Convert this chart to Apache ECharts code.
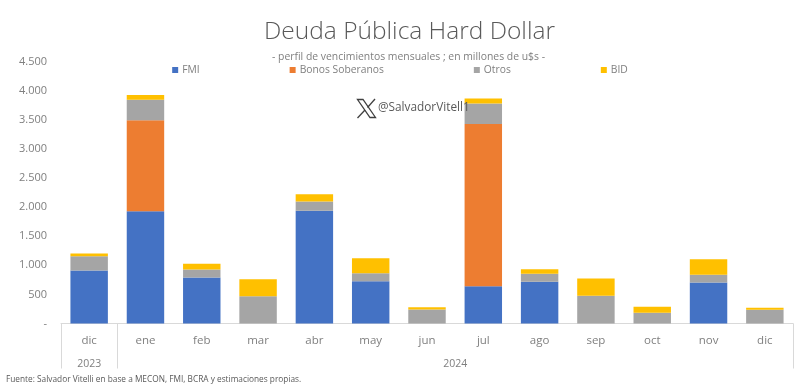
<!DOCTYPE html>
<html>
<head>
<meta charset="utf-8">
<style>html,body{margin:0;padding:0;background:#fff}#c{width:800px;height:388px}</style>
<script src="https://cdn.jsdelivr.net/npm/echarts@6/dist/echarts.min.js"></script>
</head>
<body>
<div id="c"></div>
<script>
const months = ['dic','ene','feb','mar','abr','may','jun','jul','ago','sep','oct','nov','dic'];
const years = ['2023','2024'];
const fmi    = [910,1930,792,0,1936,727,0,641,716,0,0,704,0];
const bonos  = [0,1563,0,0,0,0,0,2784,0,0,0,0,0];
const otros  = [247,349,136,470,160,138,240,355,137,475,183,132,235];
const bid    = [46,81,97,292,126,257,40,86,80,298,103,269,35];
const yTicks = {max:4500, step:500};
const titleText = 'Deuda Pública Hard Dollar';
const subtitleText = '- perfil de vencimientos mensuales ; en millones de u$s -';
const sourceText = 'Fuente: Salvador Vitelli en base a MECON, FMI, BCRA y estimaciones propias.';
const handle = '@SalvadorVitell1';

const FONT = '"Open Sans","Noto Sans",sans-serif';
const chart = echarts.init(document.getElementById('c'), null, {renderer:'canvas'});
const mk = (name, data, color) => ({
  name, type:'bar', stack:'t', data, barWidth:'66.5%',
  itemStyle:{color}, emphasis:{disabled:true}
});
chart.setOption({
  animation:false,
  backgroundColor:'#fff',
  textStyle:{fontFamily:FONT},
  title:[
    {text:titleText, left:404.5, top:15, textAlign:'center',
     textStyle:{fontFamily:FONT,fontSize:24.5,fontWeight:300,color:'#595959'}},
    {text:subtitleText, left:403.5, top:47, textAlign:'center',
     textStyle:{fontFamily:FONT,fontSize:10.4,fontWeight:400,color:'#7f7f7f'}},
    {text:sourceText, left:6, top:376, padding:0,
     textStyle:{fontFamily:FONT,fontSize:8.3,fontWeight:400,color:'#595959'}}
  ],
  legend:{
    top:60, left:'center', itemGap:90, itemWidth:6, itemHeight:6,
    icon:'rect', selectedMode:false,
    textStyle:{fontFamily:FONT,fontSize:10.3,color:'#7f7f7f',padding:[0,0,0,-1]},
    data:['FMI','Bonos Soberanos','Otros','BID']
  },
  grid:{left:61,right:7,top:61.5,bottom:64.5},
  xAxis:[
    {type:'category',data:months,position:'bottom',
     axisLine:{show:true,lineStyle:{color:'#D9D9D9',width:1}},
     axisTick:{show:false},
     axisLabel:{fontFamily:FONT,fontSize:11.5,color:'#7f7f7f',margin:11,interval:0}},
    {type:'value',min:0,max:months.length,position:'bottom',
     splitLine:{show:false},
     axisLine:{show:false},
     axisTick:{show:true,length:45,inside:false,customValues:[0,1,months.length],lineStyle:{color:'#D9D9D9',width:1}},
     axisLabel:{show:true,fontFamily:FONT,fontSize:10.5,color:'#7f7f7f',margin:35,
       customValues:[0.5,(1+months.length)/2],
       formatter:(v)=> v<1 ? years[0] : years[1]}}
  ],
  yAxis:{type:'value',min:0,max:yTicks.max,interval:yTicks.step,
    splitLine:{show:false},axisLine:{show:false},axisTick:{show:false},
    axisLabel:{fontFamily:FONT,fontSize:11,color:'#7f7f7f',margin:14,
      formatter:(v)=> v===0 ? '-' : String(v).replace(/(\d)(\d{3})$/,'$1.$2')}},
  series:[
    mk('FMI',fmi,'#4472C4'),
    mk('Bonos Soberanos',bonos,'#ED7D31'),
    mk('Otros',otros,'#A5A5A5'),
    mk('BID',bid,'#FFC000')
  ],
  graphic:[
    {type:'polygon',shape:{points:[[357.5,99.5],[363,99.5],[375.5,117.5],[370,117.5]]},
     style:{fill:'#fff',stroke:'#404040',lineWidth:1.3},z:100},
    {type:'line',shape:{x1:375,y1:99,x2:367.5,y2:107.5},style:{stroke:'#404040',lineWidth:1.3},z:100},
    {type:'line',shape:{x1:365,y1:110,x2:357.5,y2:118},style:{stroke:'#404040',lineWidth:1.3},z:100},
    {type:'text',x:378,y:102,z:100,
     style:{text:handle,fontFamily:FONT,fontSize:11.8,fill:'#595959'}}
  ]
});
</script>
</body>
</html>
